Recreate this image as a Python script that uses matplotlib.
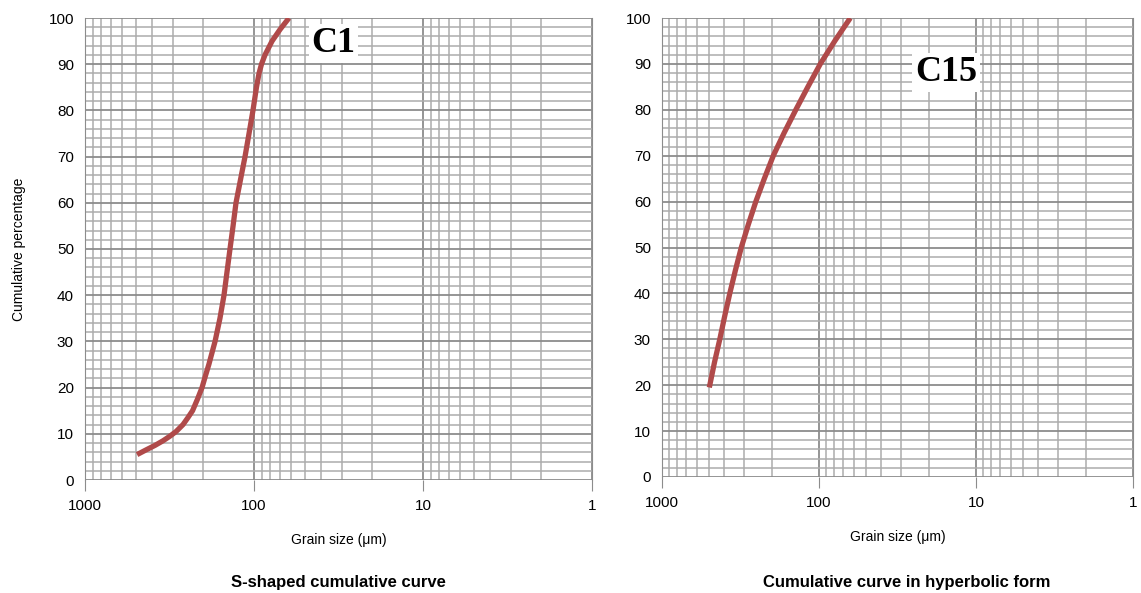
import matplotlib
matplotlib.use('Agg')
import matplotlib.pyplot as plt
from matplotlib.ticker import LogLocator, MultipleLocator, NullFormatter

plt.rcParams['font.family'] = ['Liberation Sans', 'DejaVu Sans']

# C1 - S-shaped curve (grain size in um, cumulative %)
c1_size = [492, 436, 385, 345, 314, 289, 263, 246, 231, 216, 203, 194, 185,
           170, 159, 150.5, 144.5, 138.7, 133, 127.8, 120.2, 113, 107, 101.4,
           96.7, 93.4, 90.3, 86.1, 78.2, 70.2, 62.1]
c1_pct = [5.5, 6.5, 7.5, 8.5, 9.5, 10.5, 12, 13.5, 15, 17.5, 20, 22.5, 25,
          30, 35, 40, 45, 50, 55, 60, 65, 70, 75, 80,
          85, 88, 90, 92, 95, 97.5, 100]

# C15 - hyperbolic curve
c15_size = [499.6, 463, 428.5, 399, 370, 341, 312.6, 282, 252.6, 223, 195.5,
            166.6, 140.5, 117.7, 98.1, 79.3, 63.2]
c15_pct = [19.5, 25, 30, 35, 40, 45, 50, 55, 60, 65, 70,
           75, 80, 85, 90, 95, 100]

x_ticks = [1000, 100, 10, 1]
x_ticklabels = ['1000', '100', '10', '1']
y_ticks = list(range(0, 101, 10))

curve_color = '#b04a4a'
grid_major = '#8c8c8c'
grid_minor = '#acacac'

fig = plt.figure(figsize=(11.41, 5.93), dpi=100)
ax1 = fig.add_axes([85 / 1141, 113 / 593, 507 / 1141, 462 / 593])
ax2 = fig.add_axes([662 / 1141, 116 / 593, 471 / 1141, 459 / 593])


def style_axis(ax):
    ax.set_xscale('log')
    ax.set_xlim(1000, 1)
    ax.set_ylim(0, 100)
    ax.set_xticks(x_ticks)
    ax.set_xticklabels(x_ticklabels)
    ax.xaxis.set_minor_locator(LogLocator(base=10, subs=range(2, 10)))
    ax.xaxis.set_minor_formatter(NullFormatter())
    ax.set_yticks(y_ticks)
    ax.yaxis.set_minor_locator(MultipleLocator(2))
    ax.grid(True, which='major', color=grid_major, linewidth=1.3)
    ax.grid(True, which='minor', color=grid_minor, linewidth=1.1)
    ax.set_axisbelow(True)
    ax.tick_params(axis='x', which='major', length=8, color=grid_major,
                   labelsize=11, pad=6)
    ax.tick_params(axis='x', which='minor', length=0)
    ax.tick_params(axis='y', which='both', length=0, labelsize=11, pad=8)
    for s in ax.spines.values():
        s.set_color(grid_major)
    ax.spines['bottom'].set_visible(False)
    ax.spines['top'].set_visible(False)
    ax.set_xlabel('Grain size (μm)', fontsize=10, labelpad=14)


style_axis(ax1)
style_axis(ax2)

ax1.plot(c1_size, c1_pct, color=curve_color, linewidth=3.8,
         solid_capstyle='butt', solid_joinstyle='round')
ax2.plot(c15_size, c15_pct, color=curve_color, linewidth=3.8,
         solid_capstyle='butt', solid_joinstyle='round')

ax1.set_ylabel('Cumulative percentage', fontsize=10, labelpad=16)

ax1.text(0.49, 0.945, 'C1', transform=ax1.transAxes, ha='center', va='center',
         fontsize=26, fontweight='bold', family='Liberation Serif',
         bbox=dict(facecolor='white', edgecolor='none', pad=2))
ax2.text(0.603, 0.882, 'C15', transform=ax2.transAxes, ha='center', va='center',
         fontsize=26, fontweight='bold', family='Liberation Serif',
         bbox=dict(facecolor='white', edgecolor='none', pad=2))

fig.text(338 / 1141, 1 - 582 / 593, 'S-shaped cumulative curve', ha='center',
         va='center', fontsize=12, fontweight='bold')
fig.text(907 / 1141, 1 - 582 / 593, 'Cumulative curve in hyperbolic form',
         ha='center', va='center', fontsize=12, fontweight='bold')

fig.savefig('out.png', dpi=100)
